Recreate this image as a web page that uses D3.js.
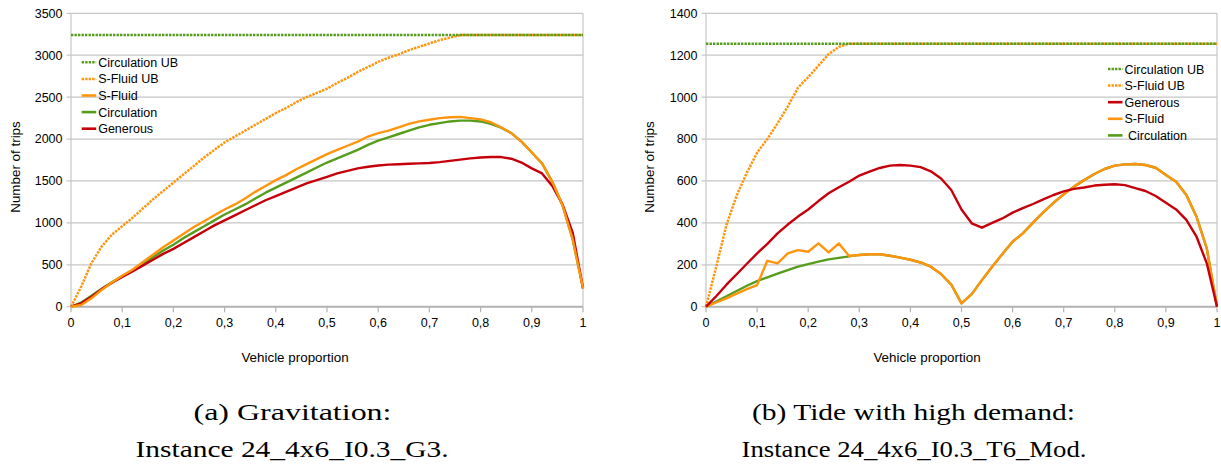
<!DOCTYPE html>
<html>
<head>
<meta charset="utf-8">
<script src="https://cdn.jsdelivr.net/npm/d3@7"></script>
<style>
  html, body { margin: 0; padding: 0; background: #fff; }
  svg text { font-family: "Liberation Sans", Arial, sans-serif; fill: #000; white-space: pre; }
</style>
</head>
<body>
<svg id="chart" width="1221" height="469"></svg>
<script>
// ---------- DATA ----------
const xValues = [0,0.02,0.04,0.06,0.08,0.1,0.12,0.14,0.16,0.18,0.2,0.22,0.24,0.26,0.28,0.3,0.32,0.34,0.36,0.38,0.4,0.42,0.44,0.46,0.48,0.5,0.52,0.54,0.56,0.58,0.6,0.62,0.64,0.66,0.68,0.7,0.72,0.74,0.76,0.78,0.8,0.82,0.84,0.86,0.88,0.9,0.92,0.94,0.96,0.98,1];
const xTicks = [0,0.1,0.2,0.3,0.4,0.5,0.6,0.7,0.8,0.9,1];
const xTickLabels = ["0","0,1","0,2","0,3","0,4","0,5","0,6","0,7","0,8","0,9","1"];

// (a) Gravitation
const yTicksA = [0,500,1000,1500,2000,2500,3000,3500];
const circUB_A = [3240,3240,3240,3240,3240,3240,3240,3240,3240,3240,3240,3240,3240,3240,3240,3240,3240,3240,3240,3240,3240,3240,3240,3240,3240,3240,3240,3240,3240,3240,3240,3240,3240,3240,3240,3240,3240,3240,3240,3240,3240,3240,3240,3240,3240,3240,3240,3240,3240,3240,3240];
const sfluidUB_A = [0,240,520,720,860,960,1060,1170,1280,1380,1480,1580,1680,1780,1870,1960,2030,2100,2170,2240,2310,2370,2440,2500,2550,2600,2670,2730,2800,2860,2920,2970,3010,3060,3100,3140,3180,3210,3240,3240,3240,3240,3240,3240,3240,3240,3240,3240,3240,3240,3240];
const sfluid_A = [0,20,100,200,290,370,440,530,620,710,790,870,950,1020,1090,1160,1220,1290,1370,1440,1510,1570,1640,1700,1760,1820,1870,1920,1970,2030,2070,2100,2140,2180,2210,2230,2250,2260,2265,2250,2235,2200,2140,2070,1970,1840,1710,1490,1210,800,220];
const circ_A = [0,50,130,215,290,365,430,510,590,670,740,820,890,960,1030,1100,1160,1220,1290,1360,1420,1480,1540,1600,1660,1720,1770,1820,1870,1930,1980,2020,2060,2100,2140,2170,2190,2210,2220,2220,2210,2180,2135,2070,1970,1840,1710,1490,1210,800,220];
const gen_A = [0,40,120,210,285,355,420,490,560,630,690,760,830,900,970,1030,1090,1150,1210,1270,1320,1370,1420,1470,1510,1550,1590,1620,1650,1670,1685,1695,1700,1705,1710,1715,1725,1740,1755,1770,1780,1785,1785,1765,1720,1650,1590,1440,1220,880,220];

// (b) Tide with high demand
const yTicksB = [0,200,400,600,800,1000,1200,1400];
const circUB_B = [1255,1255,1255,1255,1255,1255,1255,1255,1255,1255,1255,1255,1255,1255,1255,1255,1255,1255,1255,1255,1255,1255,1255,1255,1255,1255,1255,1255,1255,1255,1255,1255,1255,1255,1255,1255,1255,1255,1255,1255,1255,1255,1255,1255,1255,1255,1255,1255,1255,1255,1255];
const sfluidUB_B = [0,190,390,530,640,735,800,875,955,1045,1095,1150,1205,1240,1255,1255,1255,1255,1255,1255,1255,1255,1255,1255,1255,1255,1255,1255,1255,1255,1255,1255,1255,1255,1255,1255,1255,1255,1255,1255,1255,1255,1255,1255,1255,1255,1255,1255,1255,1255,1255];
const gen_B = [0,50,105,155,205,254,300,350,392,430,464,504,541,570,596,626,644,662,673,676,673,666,646,612,557,464,398,377,400,421,449,470,490,512,533,550,562,569,578,582,584,580,566,552,528,496,464,414,334,207,0];
const sfluid_B = [0,20,40,62,84,103,219,207,254,270,262,302,259,302,242,247,250,250,243,234,224,211,191,156,105,16,60,127,191,251,310,350,401,450,496,536,573,604,633,657,673,679,681,676,663,628,596,533,429,278,0];
const circ_B = [0,25,50,75,100,122,140,158,175,191,203,215,226,233,240,247,250,250,243,234,224,211,191,156,105,16,60,127,191,251,310,350,401,450,496,536,573,604,633,657,673,679,681,676,663,628,596,533,429,278,0];

const seriesNames = { circUB: "Circulation UB", sfUB: "S-Fluid UB", sf: "S-Fluid", circ: "Circulation", gen: "Generous" };
const colors = { green: "#579d1c", orange: "#ff950e", red: "#c5000b" };

// ---------- DRAW ----------
const svg = d3.select("#chart");
const DOT_W = 2.5, DOT_DASH = "2.4,1.1";

function drawPanel(cfg) {
  const g = svg.append("g");
  const x = d3.scaleLinear().domain([0, 1]).range([cfg.left, cfg.right]);
  const y = d3.scaleLinear().domain([0, cfg.yMax]).range([cfg.bottom, cfg.top]);

  // gridlines + y ticks
  g.append("g").selectAll("line").data(cfg.yTicks).join("line")
    .attr("x1", cfg.left - 4.5).attr("x2", cfg.right)
    .attr("y1", d => y(d)).attr("y2", d => y(d))
    .attr("stroke", "#c6c6c6").attr("stroke-width", 1.2);
  g.append("line").attr("x1", cfg.left).attr("x2", cfg.left)
    .attr("y1", cfg.top).attr("y2", cfg.bottom)
    .attr("stroke", "#c6c6c6").attr("stroke-width", 1.2);
  g.append("line").attr("x1", cfg.right).attr("x2", cfg.right)
    .attr("y1", cfg.top).attr("y2", cfg.bottom)
    .attr("stroke", "#c6c6c6").attr("stroke-width", 1.2);
  g.append("line").attr("x1", cfg.left).attr("x2", cfg.right)
    .attr("y1", cfg.bottom).attr("y2", cfg.bottom)
    .attr("stroke", "#b3b3b3").attr("stroke-width", 2);
  g.append("g").selectAll("line").data(xTicks).join("line")
    .attr("x1", d => x(d)).attr("x2", d => x(d))
    .attr("y1", cfg.bottom).attr("y2", cfg.bottom + 5.5)
    .attr("stroke", "#b3b3b3").attr("stroke-width", 1.2);

  // tick labels
  g.append("g").selectAll("text").data(cfg.yTicks).join("text")
    .attr("x", cfg.left - 8.5).attr("y", d => y(d)).attr("dy", "0.35em")
    .attr("text-anchor", "end").style("font-size", "12.5px").text(d => d);
  g.append("g").selectAll("text").data(xTicks).join("text")
    .attr("x", d => x(d)).attr("y", 326.5)
    .attr("text-anchor", "middle").style("font-size", "12.5px")
    .text((d, i) => xTickLabels[i]);

  // axis titles
  g.append("text").attr("x", cfg.xTitleX).attr("y", 361.5)
    .attr("text-anchor", "middle").style("font-size", "13.4px").text("Vehicle proportion");
  g.append("text")
    .attr("transform", `translate(${cfg.yTitleX},167) rotate(-90)`)
    .attr("text-anchor", "middle").style("font-size", "13.4px").text("Number of trips");

  // lines
  const line = d3.line().x((d, i) => x(xValues[i])).y(d => y(d)).curve(d3.curveLinear);
  cfg.series.forEach(s => {
    g.append("path").datum(s.values)
      .attr("d", line).attr("fill", "none")
      .attr("stroke", s.color).attr("stroke-width", s.dotted ? DOT_W : 2.4)
      .attr("stroke-linejoin", "round")
      .attr("stroke-dasharray", s.dotted ? DOT_DASH : null);
  });

  // legend
  const lg = g.append("g");
  cfg.legend.forEach((s, i) => {
    const yy = cfg.legY + i * 16.6;
    lg.append("line").attr("x1", cfg.legX).attr("x2", cfg.legX + 14.5)
      .attr("y1", yy).attr("y2", yy)
      .attr("stroke", s.color).attr("stroke-width", s.dotted ? DOT_W : 2.6)
      .attr("stroke-dasharray", s.dotted ? DOT_DASH : null);
    lg.append("text").attr("x", cfg.legX + 16.5).attr("y", yy).attr("dy", "0.36em")
      .style("font-size", "12.5px").text(s.label);
  });

  // caption
  cfg.caption.forEach(c => {
    g.append("text")
      .attr("x", c.cx).attr("y", c.y).attr("text-anchor", "middle")
      .attr("textLength", c.len).attr("lengthAdjust", "spacingAndGlyphs")
      .style("font-size", "24px").style("font-family", "'Liberation Serif', 'Times New Roman', serif")
      .text(c.text);
  });
}

const sA = {
  circUB: { label: seriesNames.circUB, values: circUB_A, color: colors.green, dotted: true },
  sfUB:   { label: seriesNames.sfUB, values: sfluidUB_A, color: colors.orange, dotted: true },
  sf:     { label: seriesNames.sf, values: sfluid_A, color: colors.orange },
  circ:   { label: seriesNames.circ, values: circ_A, color: colors.green },
  gen:    { label: seriesNames.gen, values: gen_A, color: colors.red }
};
drawPanel({
  left: 71, right: 583, top: 13.3, bottom: 306.7, yMax: 3500, yTicks: yTicksA,
  xTitleX: 295, yTitleX: 20,
  series: [sA.sfUB, sA.circUB, sA.circ, sA.gen, sA.sf],
  legend: [sA.circUB, sA.sfUB, sA.sf, sA.circ, sA.gen],
  legX: 81.7, legY: 62.3,
  caption: [
    { text: "(a) Gravitation:", cx: 292.5, y: 420, len: 198 },
    { text: "Instance 24_4x6_I0.3_G3.", cx: 292, y: 457, len: 313 }
  ]
});

const sB = {
  circUB: { label: seriesNames.circUB, values: circUB_B, color: colors.green, dotted: true },
  sfUB:   { label: seriesNames.sfUB, values: sfluidUB_B, color: colors.orange, dotted: true },
  gen:    { label: seriesNames.gen, values: gen_B, color: colors.red },
  sf:     { label: seriesNames.sf, values: sfluid_B, color: colors.orange },
  circ:   { label: " " + seriesNames.circ, values: circ_B, color: colors.green }
};
drawPanel({
  left: 706, right: 1217, top: 13.3, bottom: 306.7, yMax: 1400, yTicks: yTicksB,
  xTitleX: 927, yTitleX: 654,
  series: [sB.sfUB, sB.circUB, sB.circ, sB.sf, sB.gen],
  legend: [sB.circUB, sB.sfUB, sB.gen, sB.sf, sB.circ],
  legX: 1108, legY: 69,
  caption: [
    { text: "(b) Tide with high demand:", cx: 913.4, y: 420, len: 323 },
    { text: "Instance 24_4x6_I0.3_T6_Mod.", cx: 914, y: 457, len: 345 }
  ]
});
</script>
</body>
</html>
